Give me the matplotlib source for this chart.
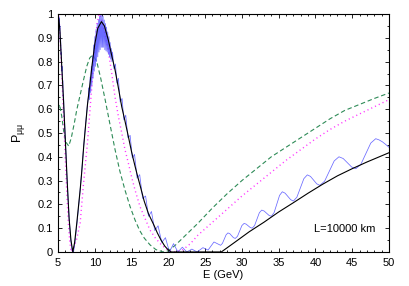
import matplotlib
matplotlib.use("Agg")
import matplotlib.pyplot as plt
from matplotlib.ticker import MultipleLocator

plt.rcParams["font.family"] = ["Liberation Sans", "DejaVu Sans"]
plt.rcParams["mathtext.fontset"] = "custom"
plt.rcParams["mathtext.rm"] = "Liberation Sans"
plt.rcParams["mathtext.default"] = "regular"

# black solid curve
black_E = [5.0, 5.1, 5.25, 5.5, 5.75, 6.0, 6.25, 6.5, 6.75, 7.0, 7.25, 7.54, 8.0, 8.2,
           8.5, 9.0, 9.35, 9.6, 10.0, 10.4, 10.9, 11.3, 11.84, 12.3, 12.75, 13.2,
           13.66, 14.1, 14.56, 15.0, 15.47, 15.8, 16.15, 16.7, 17.3, 18.0, 18.5,
           19.0, 19.5, 20.0, 20.4, 27.2, 29.0, 31.0, 33.0, 35.0, 37.0, 39.0, 41.0,
           43.0, 45.0, 47.0, 50.0]
black_P = [0.96, 0.98, 0.93, 0.78, 0.63, 0.46, 0.29, 0.14, 0.05, 0.0, 0.04, 0.12, 0.26, 0.33,
           0.45, 0.62, 0.71, 0.78, 0.875, 0.94, 0.968, 0.95, 0.89, 0.825, 0.765, 0.69,
           0.61, 0.55, 0.485, 0.42, 0.36, 0.32, 0.28, 0.215, 0.16, 0.115, 0.08,
           0.05, 0.025, 0.008, 0.0, 0.0, 0.04, 0.085, 0.125, 0.168, 0.207, 0.247, 0.285,
           0.32, 0.35, 0.378, 0.417]

# blue oscillating curve
blue_E = [5.0, 5.05, 5.1, 5.15, 5.2, 5.25, 5.3, 5.35, 5.4, 5.45, 5.5, 5.55, 5.6, 5.65,
          5.7, 5.75, 5.8, 5.9, 6.0, 6.1, 6.2, 6.3, 6.4, 6.5, 6.6, 6.7, 6.8, 6.9, 7.0,
          7.1, 7.2, 7.35, 7.5, 7.7, 8.0, 8.25, 8.5, 8.75, 9.0, 9.15,
          9.20, 9.28, 9.36, 9.44, 9.52, 9.60, 9.68, 9.76, 9.84, 9.92, 10.00, 10.08,
          10.16, 10.24, 10.32, 10.40, 10.48, 10.56, 10.64, 10.72, 10.80, 10.88,
          10.96, 11.04, 11.12, 11.20, 11.28, 11.36, 11.44, 11.52, 11.60, 11.68,
          11.76, 11.84, 11.92, 12.00, 12.08, 12.16, 12.24, 12.32, 12.40,
          12.6, 12.8, 13.0, 13.2, 13.45, 13.7, 13.95, 14.2, 14.5, 14.8, 15.1, 15.4,
          15.75, 16.1, 16.5, 16.9, 17.3, 17.7, 18.15, 18.6, 19.1, 19.6, 20.15, 20.7,
          21.3, 21.9, 22.5, 23.2, 23.9, 24.7, 25.4, 26.2, 27.1,
          27.35, 27.6, 27.85, 28.1, 28.35, 28.6, 28.85, 29.1, 29.4, 29.7, 30.0, 30.3,
          30.575, 30.85, 31.125, 31.4, 31.725, 32.05, 32.375, 32.7, 33.025, 33.35,
          33.675, 34.0, 34.375, 34.75, 35.125, 35.5, 35.875, 36.25, 36.625, 37.0,
          37.475, 37.95, 38.425, 38.9, 39.325, 39.75, 40.175, 40.6, 41.25, 41.9,
          42.55, 43.2, 43.775, 44.35, 44.925, 45.5, 46.175, 46.85, 47.525, 48.2,
          48.65, 49.1, 49.55, 50.0]
blue_P = [0.94, 0.99, 0.95, 0.985, 0.93, 0.95, 0.88, 0.90, 0.83, 0.84, 0.76, 0.78, 0.71, 0.72,
          0.65, 0.66, 0.59, 0.54, 0.46, 0.40, 0.32, 0.26, 0.20, 0.145, 0.10, 0.06, 0.03, 0.01, 0.0,
          0.0, 0.02, 0.055, 0.10, 0.16, 0.26, 0.35, 0.45, 0.54, 0.62, 0.66,
          0.69, 0.64, 0.735, 0.67, 0.78, 0.70, 0.825, 0.73, 0.87, 0.76, 0.905, 0.78,
          0.935, 0.80, 0.96, 0.82, 0.975, 0.84, 0.99, 0.85, 0.995, 0.86,
          0.995, 0.86, 0.99, 0.86, 0.975, 0.85, 0.96, 0.845, 0.945, 0.84,
          0.925, 0.83, 0.905, 0.82, 0.88, 0.81, 0.855, 0.80, 0.84,
          0.77, 0.79, 0.71, 0.73, 0.63, 0.645, 0.555, 0.575, 0.48, 0.49, 0.395, 0.41,
          0.31, 0.325, 0.225, 0.235, 0.15, 0.17, 0.09, 0.11, 0.04, 0.06, 0.0, 0.035,
          0.0, 0.02, 0.0, 0.012, 0.0, 0.018, 0.008, 0.042, 0.028,
          0.036, 0.054, 0.072, 0.080, 0.077, 0.0685, 0.060, 0.057, 0.066, 0.0885, 0.111, 0.120,
          0.117, 0.110, 0.103, 0.100, 0.111, 0.138, 0.165, 0.176, 0.172, 0.163,
          0.154, 0.150, 0.165, 0.2015, 0.238, 0.253, 0.247, 0.2335, 0.220, 0.214,
          0.230, 0.269, 0.308, 0.324, 0.3176, 0.302, 0.2864, 0.280, 0.2975, 0.340,
          0.3825, 0.400, 0.3927, 0.375, 0.357, 0.350, 0.368, 0.413, 0.4576, 0.476,
          0.471, 0.463, 0.452, 0.440]

# green dashed curve
green_E = [5.0, 5.2, 5.5, 5.8, 6.1, 6.45, 6.8, 7.2, 7.54, 8.0, 8.44, 8.9, 9.3, 9.6,
           9.9, 10.26, 10.8, 11.4, 12.1, 12.75, 13.4, 14.1, 14.8, 15.47, 16.1, 16.73,
           17.5, 18.3, 19.3, 20.0, 21.0, 22.0, 23.0, 24.0, 26.0, 28.0, 30.0, 32.0,
           34.0, 36.0, 38.0, 40.0, 42.0, 44.0, 46.0, 48.0, 50.0]
green_P = [0.60, 0.62, 0.57, 0.50, 0.46, 0.445, 0.48, 0.54, 0.597, 0.66, 0.72, 0.78, 0.815, 0.825,
           0.82, 0.80, 0.73, 0.64, 0.53, 0.43, 0.34, 0.26, 0.19, 0.134, 0.09, 0.058,
           0.03, 0.01, 0.0, 0.005, 0.03, 0.06, 0.09, 0.12, 0.185, 0.245, 0.30, 0.35,
           0.40, 0.44, 0.48, 0.52, 0.56, 0.595, 0.62, 0.645, 0.668]

# magenta dotted curve
mag_E = [5.0, 5.05, 5.2, 5.4, 5.6, 5.8, 6.0, 6.2, 6.4, 6.6, 6.8, 7.0, 7.5, 8.0, 8.44,
         9.0, 9.5, 10.0, 10.3, 10.6, 10.9, 11.3, 11.8, 12.3, 12.75, 13.2, 13.66, 14.1,
         14.56, 15.0, 15.47, 16.15, 16.73, 17.5, 18.2, 18.9, 19.6, 20.3, 21.1, 22.0,
         23.0, 24.0, 26.0, 28.0, 30.0, 32.0, 34.0, 36.0, 38.0, 40.0, 42.0, 44.0, 46.0,
         48.0, 50.0]
mag_P = [0.99, 1.0, 0.95, 0.82, 0.68, 0.53, 0.38, 0.24, 0.12, 0.04, 0.0, 0.01, 0.05, 0.12, 0.28,
         0.46, 0.66, 0.86, 0.96, 1.0, 0.98, 0.93, 0.85, 0.75, 0.65, 0.57, 0.50, 0.43,
         0.373, 0.315, 0.26, 0.19, 0.148, 0.092, 0.06, 0.035, 0.015, 0.003, 0.0, 0.01,
         0.035, 0.07, 0.125, 0.18, 0.235, 0.285, 0.335, 0.385, 0.43, 0.475, 0.515, 0.55, 0.58,
         0.61, 0.64]

fig = plt.figure(figsize=(4.09, 2.86), dpi=100)
ax = fig.add_axes([0.142, 0.119, 0.809, 0.832])

ax.plot(green_E, green_P, color="#2e8b57", lw=0.8, dashes=(4, 2.5))
ax.plot(mag_E, mag_P, color="#ff33ff", lw=1.0, dashes=(0.8, 2.2))
ax.plot(blue_E, blue_P, color="#5050ff", lw=0.55, alpha=0.85)
ax.plot(black_E, black_P, color="black", lw=0.8)

ax.text(48.1, 0.095, "L=10000 km", fontsize=8, ha="right", va="center")

ax.set_xlim(5, 50)
ax.set_ylim(0, 1)
ax.xaxis.set_major_locator(MultipleLocator(5))
ax.xaxis.set_minor_locator(MultipleLocator(1))
ax.yaxis.set_minor_locator(MultipleLocator(0.05))
ax.set_yticks([0, 0.1, 0.2, 0.3, 0.4, 0.5, 0.6, 0.7, 0.8, 0.9, 1])
ax.set_yticklabels(["0", "0.1", "0.2", "0.3", "0.4", "0.5", "0.6", "0.7", "0.8", "0.9", "1"])
ax.tick_params(which="both", direction="in", top=True, right=True, labelsize=8, width=0.6)
ax.tick_params(which="major", length=3)
ax.tick_params(which="minor", length=1.7)
ax.tick_params(axis="x", pad=4)
ax.tick_params(axis="y", pad=3.5)
for s in ax.spines.values():
    s.set_linewidth(0.8)

ax.set_xlabel("E (GeV)", fontsize=8, labelpad=1.5)
ax.set_ylabel(r"P$_{\mu\mu}$", fontsize=9, labelpad=8)

fig.savefig("out.png", dpi=100)
